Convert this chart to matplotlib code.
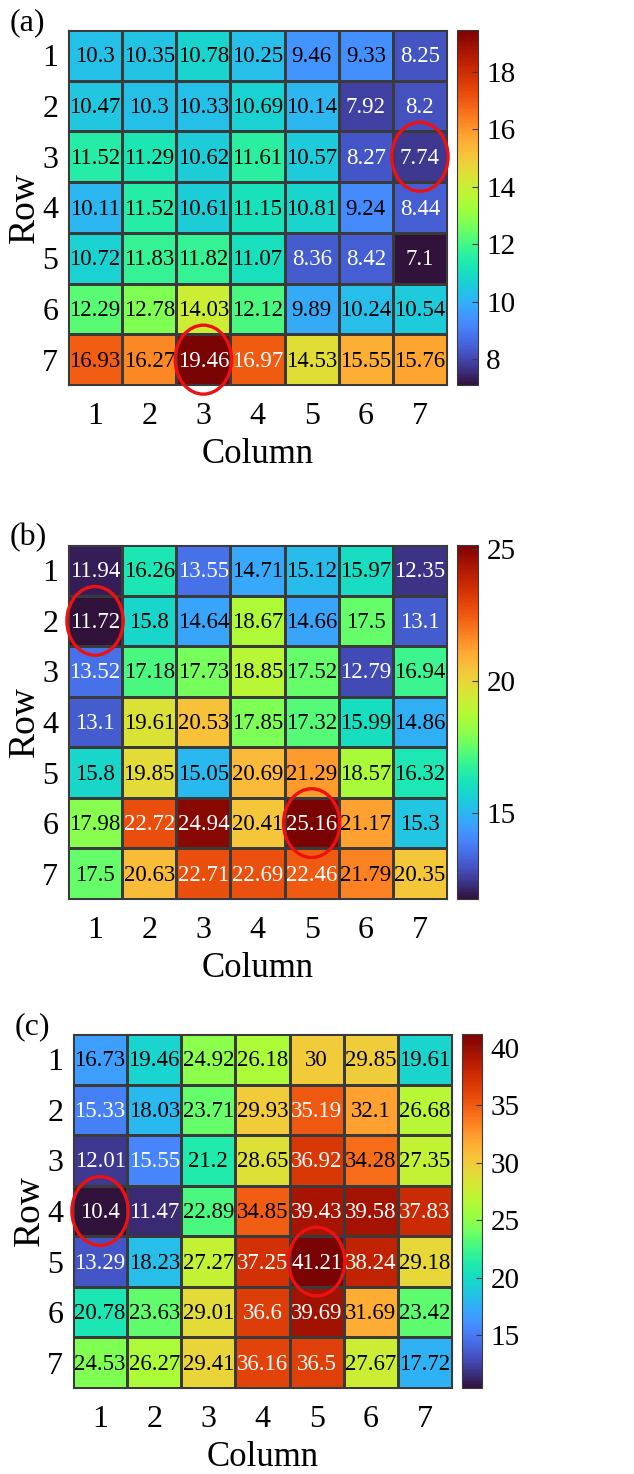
import numpy as np
import matplotlib
matplotlib.use("Agg")
import matplotlib.pyplot as plt
from matplotlib.patches import Ellipse

plt.rcParams['font.family'] = ['Liberation Serif', 'DejaVu Serif']

rows = [1, 2, 3, 4, 5, 6, 7]
cols = [1, 2, 3, 4, 5, 6, 7]

vals_a = [
    [10.3, 10.35, 10.78, 10.25, 9.46, 9.33, 8.25],
    [10.47, 10.3, 10.33, 10.69, 10.14, 7.92, 8.2],
    [11.52, 11.29, 10.62, 11.61, 10.57, 8.27, 7.74],
    [10.11, 11.52, 10.61, 11.15, 10.81, 9.24, 8.44],
    [10.72, 11.83, 11.82, 11.07, 8.36, 8.42, 7.1],
    [12.29, 12.78, 14.03, 12.12, 9.89, 10.24, 10.54],
    [16.93, 16.27, 19.46, 16.97, 14.53, 15.55, 15.76],
]
vals_b = [
    [11.94, 16.26, 13.55, 14.71, 15.12, 15.97, 12.35],
    [11.72, 15.8, 14.64, 18.67, 14.66, 17.5, 13.1],
    [13.52, 17.18, 17.73, 18.85, 17.52, 12.79, 16.94],
    [13.1, 19.61, 20.53, 17.85, 17.32, 15.99, 14.86],
    [15.8, 19.85, 15.05, 20.69, 21.29, 18.57, 16.32],
    [17.98, 22.72, 24.94, 20.41, 25.16, 21.17, 15.3],
    [17.5, 20.63, 22.71, 22.69, 22.46, 21.79, 20.35],
]
vals_c = [
    [16.73, 19.46, 24.92, 26.18, 30, 29.85, 19.61],
    [15.33, 18.03, 23.71, 29.93, 35.19, 32.1, 26.68],
    [12.01, 15.55, 21.2, 28.65, 36.92, 34.28, 27.35],
    [10.4, 11.47, 22.89, 34.85, 39.43, 39.58, 37.83],
    [13.29, 18.23, 27.27, 37.25, 41.21, 38.24, 29.18],
    [20.78, 23.63, 29.01, 36.6, 39.69, 31.69, 23.42],
    [24.53, 26.27, 29.41, 36.16, 36.5, 27.67, 17.72],
]

# (row, column) of the min / max cells that get circled
marks_a = [(3, 7), (7, 3)]
marks_b = [(2, 1), (6, 5)]
marks_c = [(4, 1), (5, 5)]

ticks_a = [8, 10, 12, 14, 16, 18]
ticks_b = [15, 20, 25]
ticks_c = [15, 20, 25, 30, 35, 40]

W, H = 634, 1474
fig = plt.figure(figsize=(W / 100, H / 100), dpi=100)


def px_box(x0, y0, x1, y1):
    return [x0 / W, 1 - y1 / H, (x1 - x0) / W, (y1 - y0) / H]


def draw_panel(vals, marks, ticks, tag, ax_px, cb_px):
    data = np.array(vals)
    vmin, vmax = data.min(), data.max()
    ax = fig.add_axes(px_box(*ax_px))
    cax = fig.add_axes(px_box(*cb_px))
    edges = np.arange(0.5, 8.5, 1.0)
    mesh = ax.pcolormesh(edges, edges, data, cmap='turbo', vmin=vmin, vmax=vmax,
                         edgecolor='#3a3a3a', linewidth=0.8)
    ax.set_xlim(0.5, 7.5)
    ax.set_ylim(7.5, 0.5)
    ax.set_xticks(cols)
    ax.set_yticks(rows)
    ax.tick_params(length=0, labelsize=23)
    ax.tick_params(axis='x', pad=12)
    ax.tick_params(axis='y', pad=7)
    ax.set_xlabel('Column', fontsize=25, labelpad=5)
    ax.set_ylabel('Row', fontsize=27, labelpad=0)
    for s in ax.spines.values():
        s.set_color('#3a3a3a')
        s.set_linewidth(0.8)

    for i in range(7):
        for j in range(7):
            v = data[i, j]
            t = (v - vmin) / (vmax - vmin)
            color = 'white' if (t < 0.17 or t > 0.797) else 'black'
            ax.text(cols[j], rows[i] + 0.03, f"{v:g}", ha='center', va='center',
                    fontsize=16.5, color=color)

    for r, c in marks:
        ax.add_patch(Ellipse((c, r), 1.04, 1.36, fill=False, edgecolor='#ee1111',
                             linewidth=2.4, clip_on=False, zorder=5))

    cb = fig.colorbar(mesh, cax=cax, ticks=ticks)
    cb.outline.set_edgecolor('#3a3a3a')
    cb.outline.set_linewidth(0.8)
    cax.tick_params(direction='in', length=4, width=0.8, labelsize=21, pad=6,
                    color='#3a3a3a')

    fig.text((ax_px[0] - 58) / W, 1 - (ax_px[1] - 7) / H, tag, fontsize=23,
             ha='left', va='center')


draw_panel(vals_a, marks_a, ticks_a, '(a)', (68, 30, 447, 385), (457, 30, 478, 385))
draw_panel(vals_b, marks_b, ticks_b, '(b)', (68, 545, 447, 899), (457, 545, 478, 899))
draw_panel(vals_c, marks_c, ticks_c, '(c)', (73, 1034, 452, 1388), (462, 1034, 482, 1388))

fig.savefig('out.png', dpi=100, facecolor='white')
